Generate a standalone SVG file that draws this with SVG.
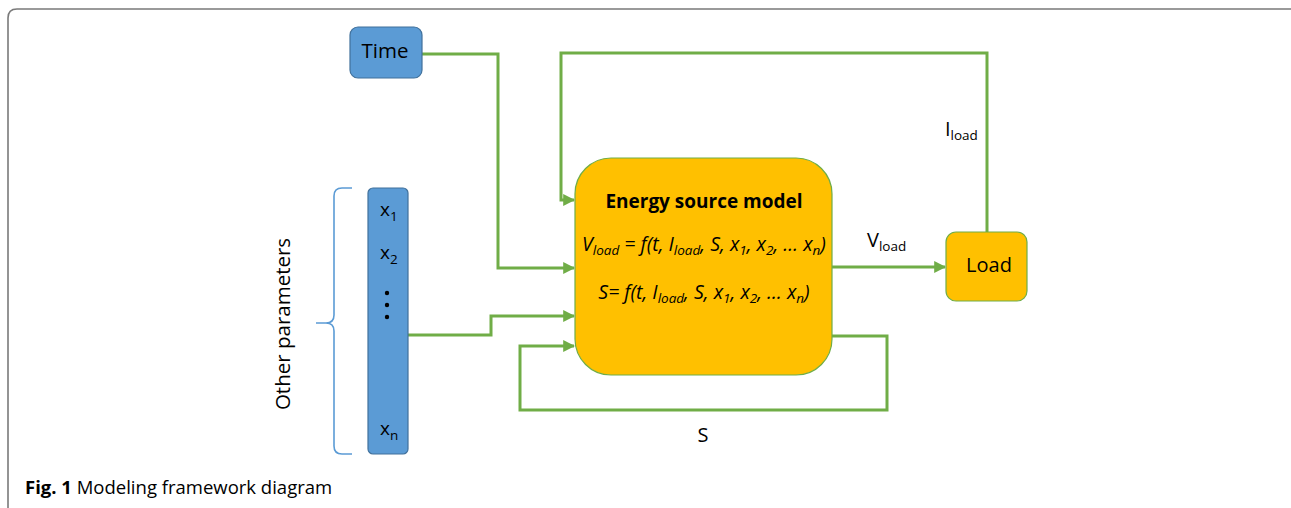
<svg xmlns="http://www.w3.org/2000/svg" width="1291" height="508" viewBox="0 0 1291 508">
  <style>
    .t { font-family: "Open Sans", "Liberation Sans", sans-serif; fill: #000; }
    .blue { fill: #5b9bd5; stroke: #41719c; stroke-width: 1.2; }
    .gold { fill: #ffc000; stroke: #70ad47; stroke-width: 1.2; }
    .wire { fill: none; stroke: #70ad47; stroke-width: 3; }
    .sub { font-size: 13.5px; }
  </style>
  <defs>
    <marker id="arrow" viewBox="0 0 10 10" refX="9" refY="5" markerWidth="4" markerHeight="4" orient="auto" markerUnits="strokeWidth">
      <path d="M0,0 L10,5 L0,10 z" fill="#70ad47"/>
    </marker>
  </defs>

  <rect width="1291" height="508" fill="#fff"/>
  <!-- page frame -->
  <path d="M8,508 L8,18 Q8,9 17,9 L1291,9" fill="none" stroke="#7a7a7a" stroke-width="1.6"/>

  <!-- connectors -->
  <g id="connectors">
    <path class="wire" d="M422,54 H498 V268 H574" marker-end="url(#arrow)"/>
    <path class="wire" d="M987,233 V53 H561 V200 H574" marker-end="url(#arrow)"/>
    <path class="wire" d="M408,335 H491 V316 H574" marker-end="url(#arrow)"/>
    <path class="wire" d="M832,336 H887 V410 H520 V346 H574" marker-end="url(#arrow)"/>
    <path class="wire" d="M832,267 H945" marker-end="url(#arrow)"/>
    <text class="t" x="867" y="247" font-size="20">V<tspan class="sub" dy="4">load</tspan></text>
    <text class="t" x="945" y="136" font-size="20">I<tspan class="sub" dy="4">load</tspan></text>
    <text class="t" x="703" y="442" font-size="20" text-anchor="middle">S</text>
  </g>

  <g id="time">
    <rect class="blue" x="350" y="27" width="72" height="51" rx="8"/>
    <text class="t" x="385" y="58" font-size="20.5" text-anchor="middle">Time</text>
  </g>

  <g id="parameters">
    <rect class="blue" x="368" y="188" width="40" height="266" rx="5"/>
    <text class="t" x="380" y="216" font-size="19">x<tspan class="sub" dy="5">1</tspan></text>
    <text class="t" x="380" y="259" font-size="19">x<tspan class="sub" dy="5">2</tspan></text>
    <circle cx="387" cy="293" r="2.2" fill="#000"/>
    <circle cx="387" cy="305" r="2.2" fill="#000"/>
    <circle cx="387" cy="317" r="2.2" fill="#000"/>
    <text class="t" x="380" y="435" font-size="19">x<tspan class="sub" dy="5">n</tspan></text>
  </g>

  <g id="brace">
    <path d="M352,188 H342 Q334,188 334,196 V315 Q334,323 326,323 H316 M326,323 Q334,323 334,331 V446 Q334,454 342,454 H352" fill="none" stroke="#5b9bd5" stroke-width="1.6"/>
    <text class="t" transform="translate(290,324) rotate(-90)" font-size="20.5" text-anchor="middle">Other parameters</text>
  </g>

  <g id="energy-source">
    <rect class="gold" x="575" y="158" width="257" height="217" rx="36"/>
    <text class="t" x="704" y="208" font-size="19" font-weight="bold" text-anchor="middle">Energy source model</text>
    <text class="t" x="704" y="251" font-size="19.5" font-style="italic" text-anchor="middle">V<tspan class="sub" dy="4">load</tspan><tspan dy="-4"> = f(t, I</tspan><tspan class="sub" dy="4">load</tspan><tspan dy="-4">, S, x</tspan><tspan class="sub" dy="4">1</tspan><tspan dy="-4">, x</tspan><tspan class="sub" dy="4">2</tspan><tspan dy="-4">, … x</tspan><tspan class="sub" dy="4">n</tspan><tspan dy="-4">)</tspan></text>
    <text class="t" x="704" y="299" font-size="19.5" font-style="italic" text-anchor="middle">S= f(t, I<tspan class="sub" dy="4">load</tspan><tspan dy="-4">, S, x</tspan><tspan class="sub" dy="4">1</tspan><tspan dy="-4">, x</tspan><tspan class="sub" dy="4">2</tspan><tspan dy="-4">, … x</tspan><tspan class="sub" dy="4">n</tspan><tspan dy="-4">)</tspan></text>
  </g>

  <g id="load">
    <rect class="gold" x="946" y="232" width="81" height="69" rx="10"/>
    <text class="t" x="989" y="272" font-size="20" text-anchor="middle">Load</text>
  </g>

  <g id="caption">
    <text class="t" x="25" y="494" font-size="18.5"><tspan font-weight="bold">Fig. 1</tspan> Modeling framework diagram</text>
  </g>
</svg>
